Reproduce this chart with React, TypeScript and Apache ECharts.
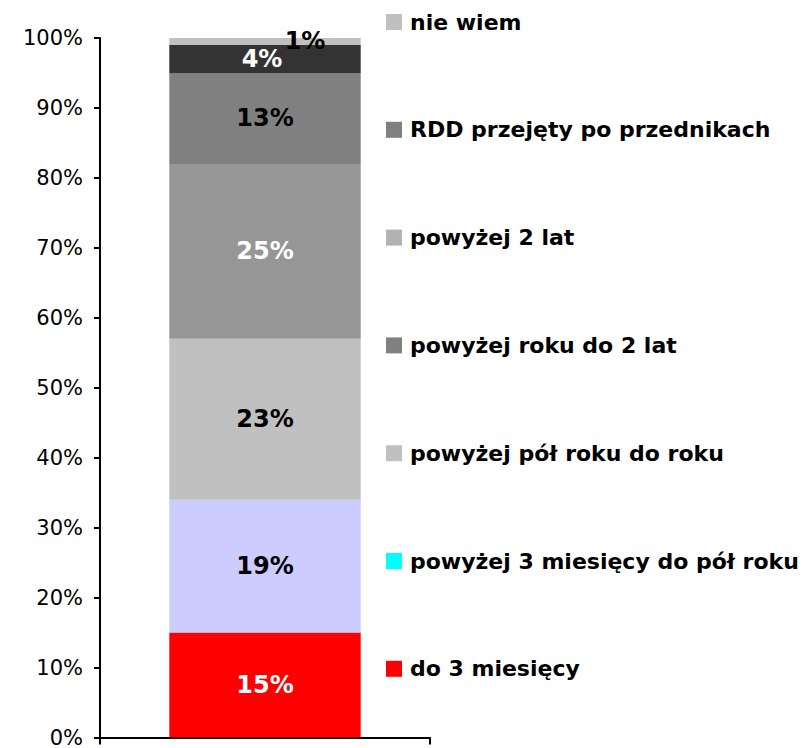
import React, { useEffect, useRef } from "react";
import * as echarts from "echarts";

const categories = [""];
const seriesNames = [
  "do 3 miesięcy",
  "powyżej 3 miesięcy do pół roku",
  "powyżej pół roku do roku",
  "powyżej roku do 2 lat",
  "powyżej 2 lat",
  "RDD przejęty po przednikach",
  "nie wiem",
];
const seriesValues = [15, 19, 23, 25, 13, 4, 1];
const barColors = ["#FF0000", "#CCCCFF", "#C0C0C0", "#969696", "#808080", "#333333", "#C0C0C0"];
const labelColors = ["#FFFFFF", "#000000", "#000000", "#FFFFFF", "#000000", "#FFFFFF", "#000000"];
const legendOrder = [
  "nie wiem",
  "RDD przejęty po przednikach",
  "powyżej 2 lat",
  "powyżej roku do 2 lat",
  "powyżej pół roku do roku",
  "powyżej 3 miesięcy do pół roku",
  "do 3 miesięcy",
];
const legendColors = ["#C0C0C0", "#808080", "#B2B2B2", "#808080", "#C0C0C0", "#00FFFF", "#FF0000"];

export default function App() {
  const ref = useRef<HTMLDivElement>(null);
  useEffect(() => {
    if (!ref.current) return;
    const chart = echarts.init(ref.current, undefined, { renderer: "svg" });
    chart.setOption({
      animation: false,
      backgroundColor: "#FFFFFF",
      grid: { left: 100, right: 382, top: 38, bottom: 10, containLabel: false },
      legend: {
        orient: "vertical",
        left: 386,
        top: 11,
        padding: 0,
        itemWidth: 16,
        itemHeight: 16,
        itemGap: 85.8,
        icon: "rect",
        selectedMode: false,
        textStyle: {
          fontFamily: "DejaVu Sans",
          fontWeight: "bold",
          fontSize: 22,
          color: "#000",
          padding: [0, 0, 0, 3],
        },
        data: legendOrder.map((n, i) => ({ name: n, itemStyle: { color: legendColors[i] } })),
      },
      xAxis: {
        type: "category",
        data: categories,
        axisLine: { lineStyle: { color: "#000", width: 2 } },
        axisTick: { show: true, length: 7, lineStyle: { color: "#000", width: 2 } },
        axisLabel: { show: false },
      },
      yAxis: {
        type: "value",
        min: 0,
        max: 100,
        interval: 10,
        splitLine: { show: false },
        axisLine: { show: true, lineStyle: { color: "#000", width: 2 } },
        axisTick: { show: true, length: 6, lineStyle: { color: "#000", width: 2 } },
        axisLabel: {
          formatter: "{value}%",
          fontFamily: "DejaVu Sans",
          fontSize: 21,
          color: "#000",
          margin: 17,
        },
      },
      series: seriesNames.map((name, i) => ({
        name,
        type: "bar",
        stack: "total",
        barWidth: "58%",
        data: [seriesValues[i]],
        itemStyle: { color: barColors[i] },
        label: {
          show: true,
          position: "inside",
          offset: i === 6 ? [40, 0] : i === 5 ? [-3, 0] : [0, 0],
          formatter: "{c}%",
          color: labelColors[i],
          fontFamily: "DejaVu Sans",
          fontWeight: "bold",
          fontSize: 24,
        },
      })),
    });
    return () => chart.dispose();
  }, []);
  return <div ref={ref} style={{ width: 812, height: 748, position: "absolute", left: 0, top: 0 }} />;
}
